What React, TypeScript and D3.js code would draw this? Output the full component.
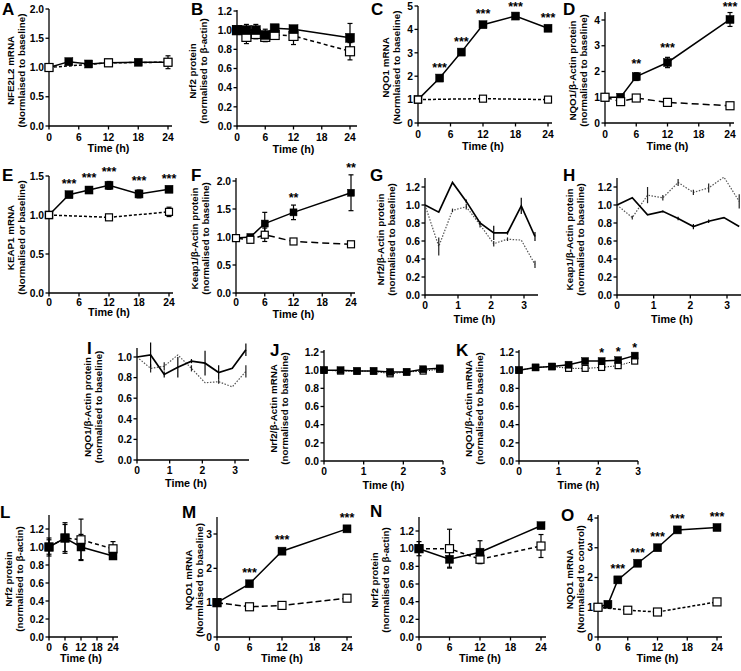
import React from "react";
import * as d3 from "d3";

const FONT = "'Liberation Sans', Arial, Helvetica, sans-serif";

// ---------------- DATA ----------------
// A: NFE2L2 mRNA
const tA_treat = [0, 4, 8, 12, 18, 24];
const nfe2l2Treat = [1.0, 1.1, 1.06, 1.08, 1.09, 1.09];
const nfe2l2TreatErr = [0, 0.03, 0.02, 0.02, 0.03, 0.02];
const tA_ctrl = [0, 12, 24];
const nfe2l2Ctrl = [1.0, 1.08, 1.09];
const nfe2l2CtrlErr = [0, 0.02, 0.11];

// B: Nrf2 protein
const tB = [0, 2, 4, 6, 8, 12, 24];
const nrf2ProtTreat = [1.0, 1.0, 1.0, 0.95, 1.02, 1.01, 0.92];
const nrf2ProtTreatErr = [0.03, 0.06, 0.06, 0.06, 0.03, 0.03, 0.15];
const nrf2ProtCtrl = [1.0, 0.93, 0.96, 0.93, 0.95, 0.94, 0.78];
const nrf2ProtCtrlErr = [0.02, 0.07, 0.05, 0.05, 0.03, 0.09, 0.09];

// C: NQO1 mRNA
const tC_treat = [0, 4, 8, 12, 18, 24];
const nqo1MrnaTreat = [1.0, 1.92, 3.03, 4.2, 4.57, 4.05];
const nqo1MrnaTreatErr = [0.03, 0.05, 0.06, 0.08, 0.06, 0.06];
const tC_ctrl = [0, 12, 24];
const nqo1MrnaCtrl = [1.0, 1.04, 1.0];
const starsC_t = [4, 8, 12, 18, 24];
const starsC_l = ["***", "***", "***", "***", "***"];

// D: NQO1 protein
const tD = [0, 3, 6, 12, 24];
const nqo1ProtTreat = [1.0, 1.0, 1.8, 2.35, 4.02];
const nqo1ProtTreatErr = [0.05, 0.06, 0.15, 0.2, 0.27];
const nqo1ProtCtrl = [1.0, 0.83, 0.97, 0.8, 0.67];
const nqo1ProtCtrlErr = [0.05, 0.05, 0.1, 0.15, 0.05];
const starsD_t = [6, 12, 24];
const starsD_l = ["**", "***", "***"];

// E: KEAP1 mRNA
const tE_treat = [0, 4, 8, 12, 18, 24];
const keap1MrnaTreat = [1.0, 1.26, 1.32, 1.38, 1.27, 1.33];
const keap1MrnaTreatErr = [0, 0.02, 0.04, 0.05, 0.05, 0.02];
const tE_ctrl = [0, 12, 24];
const keap1MrnaCtrl = [1.0, 0.97, 1.04];
const keap1MrnaCtrlErr = [0, 0.02, 0.06];
const starsE_t = [4, 8, 12, 18, 24];
const starsE_l = ["***", "***", "***", "***", "***"];

// F: Keap1 protein
const tF = [0, 3, 6, 12, 24];
const keap1ProtTreat = [0.98, 1.0, 1.24, 1.44, 1.79];
const keap1ProtTreatErr = [0.03, 0.03, 0.2, 0.13, 0.32];
const keap1ProtCtrl = [0.98, 0.95, 1.04, 0.92, 0.87];
const keap1ProtCtrlErr = [0.03, 0.03, 0.12, 0.03, 0.03];
const starsF_t = [12, 24];
const starsF_l = ["**", "**"];

// G, H, I: short time course (h)
const tShort = [0, 0.417, 0.833, 1.25, 1.667, 2.083, 2.5, 2.917, 3.333];
const gSolid = [1.0, 0.92, 1.25, 1.04, 0.8, 0.69, 0.69, 0.99, 0.65];
const gSolidErr = [0, 0, 0, 0.02, 0.02, 0.08, 0.02, 0.09, 0.05];
const gDotted = [1.0, 0.54, 0.94, 0.98, 0.78, 0.57, 0.62, 0.61, 0.34];
const gDottedErr = [0, 0.1, 0.02, 0.03, 0.03, 0.03, 0.02, 0, 0.04];

const hSolid = [1.0, 1.08, 0.89, 0.93, 0.85, 0.76, 0.82, 0.86, 0.76];
const hSolidErr = [0, 0, 0, 0.01, 0.02, 0.03, 0.02, 0, 0];
const hDotted = [1.0, 0.86, 1.11, 1.08, 1.25, 1.14, 1.19, 1.31, 1.04];
const hDottedErr = [0, 0.02, 0.09, 0.03, 0.04, 0.03, 0.05, 0, 0.08];

const iSolid = [1.0, 1.02, 0.83, 0.9, 0.96, 0.94, 0.85, 0.89, 1.07];
const iSolidErr = [0, 0.12, 0.03, 0.1, 0.02, 0.12, 0.07, 0, 0.06];
const iDotted = [1.0, 0.89, 0.91, 1.02, 0.89, 0.75, 0.76, 0.71, 0.86];
const iDottedErr = [0, 0.04, 0.04, 0, 0.03, 0, 0.02, 0, 0.06];

// J, K
const tJK = [0, 0.417, 0.833, 1.25, 1.667, 2.083, 2.5, 2.917];
const jTreat = [1.0, 1.0, 0.99, 0.99, 0.98, 0.98, 1.01, 1.02];
const jCtrl = [1.0, 0.99, 0.99, 0.99, 0.96, 0.98, 0.99, 1.01];
const kTreat = [1.0, 1.03, 1.04, 1.06, 1.1, 1.1, 1.11, 1.16];
const kTreatErr = [0, 0.01, 0.01, 0.01, 0.01, 0.01, 0.01, 0.01];
const kCtrl = [1.0, 1.03, 1.04, 1.02, 1.02, 1.03, 1.05, 1.1];
const starsK_t = [2.083, 2.5, 2.917];
const starsK_l = ["*", "*", "*"];

// L, M, N
const t4 = [0, 6, 12, 24];
const lTreat = [1.0, 1.1, 1.0, 0.9];
const lTreatErr = [0.1, 0.17, 0.14, 0.03];
const lCtrl = [1.0, 1.1, 1.08, 0.98];
const lCtrlErr = [0.08, 0.15, 0.23, 0.08];

const mTreat = [1.0, 1.55, 2.5, 3.15];
const mTreatErr = [0.03, 0.05, 0.05, 0.06];
const mCtrl = [1.0, 0.88, 0.92, 1.13];
const starsM_t = [6, 12, 24];
const starsM_l = ["***", "***", "***"];

const nTreat = [1.0, 0.88, 0.96, 1.26];
const nTreatErr = [0.08, 0.09, 0.13, 0.02];
const nCtrl = [1.0, 1.0, 0.88, 1.03];
const nCtrlErr = [0.02, 0.22, 0.04, 0.13];

// O
const tO_treat = [0, 2, 4, 8, 12, 16, 24];
const oTreat = [1.0, 1.1, 1.92, 2.48, 3.0, 3.6, 3.68];
const oTreatErr = [0.03, 0.04, 0.05, 0.05, 0.05, 0.05, 0.05];
const tO_ctrl = [0, 6, 12, 24];
const oCtrl = [1.0, 0.9, 0.84, 1.18];
const starsO_t = [4, 8, 12, 16, 24];
const starsO_l = ["***", "***", "***", "***", "***"];

// tick labels
const ticks24 = [0, 6, 12, 18, 24];
const ticks3 = [0, 1, 2, 3];

// ---------------- LAYOUT ----------------
type Kind = "filled" | "open" | "solidLine" | "dottedLine";
interface SeriesCfg {
  t: number[];
  v: number[];
  e?: number[];
  kind: Kind;
  dash?: string;
  size?: number;
  lw?: number;
}
interface PanelCfg {
  letter: string;
  lx: number;
  ly: number;
  x0: number;
  x1: number;
  xMax: number;
  xEnd: number;
  xTicks: number[];
  y0: number;
  y1: number;
  yMax: number;
  yTop: number;
  yTicks: number[];
  yDec: number;
  title: [string, string];
  tx: number;
  tickDy: number;
  timeDy: number;
  series: SeriesCfg[];
  starT?: number[];
  starL?: string[];
  starGap?: number;
}

const rng = (a: number, b: number, s: number) => d3.range(a, b + s / 2, s);

const panels: PanelCfg[] = [
  {
    letter: "A", lx: 2, ly: 15,
    x0: 49, x1: 168, xMax: 24, xEnd: 172, xTicks: ticks24,
    y0: 126, y1: 9, yMax: 2.0, yTop: 9, yTicks: rng(0, 2, 0.5), yDec: 1,
    title: ["NFE2L2 mRNA", "(Normlaised to baseline)"], tx: 10, tickDy: 14.5, timeDy: 26,
    series: [
      { t: tA_treat, v: nfe2l2Treat, e: nfe2l2TreatErr, kind: "filled", size: 8 },
      { t: tA_ctrl, v: nfe2l2Ctrl, e: nfe2l2CtrlErr, kind: "open", dash: "3,2", size: 8 },
    ],
  },
  {
    letter: "B", lx: 191, ly: 15,
    x0: 237, x1: 350, xMax: 24, xEnd: 357, xTicks: ticks24,
    y0: 126, y1: 11, yMax: 1.2, yTop: 10, yTicks: rng(0, 1.2, 0.2), yDec: 1,
    title: ["Nrf2 protein", "(normalised to \u03b2-actin)"], tx: 192, tickDy: 14.5, timeDy: 27,
    series: [
      { t: tB, v: nrf2ProtCtrl, e: nrf2ProtCtrlErr, kind: "open", dash: "4,3", size: 9 },
      { t: tB, v: nrf2ProtTreat, e: nrf2ProtTreatErr, kind: "filled", size: 9 },
    ],
  },
  {
    letter: "C", lx: 371, ly: 15,
    x0: 418, x1: 548, xMax: 24, xEnd: 552, xTicks: ticks24,
    y0: 123, y1: 6, yMax: 5, yTop: 6, yTicks: rng(0, 5, 1), yDec: 0,
    title: ["NQO1 mRNA", "(Normlaised to baseline)"], tx: 385, tickDy: 14.5, timeDy: 27,
    series: [
      { t: tC_treat, v: nqo1MrnaTreat, e: nqo1MrnaTreatErr, kind: "filled", size: 8 },
      { t: tC_ctrl, v: nqo1MrnaCtrl, kind: "open", dash: "3,2", size: 7 },
    ],
    starT: starsC_t, starL: starsC_l, starGap: 5,
  },
  {
    letter: "D", lx: 563, ly: 15,
    x0: 605, x1: 730, xMax: 24, xEnd: 734, xTicks: ticks24,
    y0: 123, y1: 20, yMax: 4, yTop: 12, yTicks: rng(0, 4, 1), yDec: 0,
    title: ["NQO1/\u03b2-Actin protein", "(normalised to baseline)"], tx: 572, tickDy: 14.5, timeDy: 27,
    series: [
      { t: tD, v: nqo1ProtTreat, e: nqo1ProtTreatErr, kind: "filled", size: 8 },
      { t: tD, v: nqo1ProtCtrl, e: nqo1ProtCtrlErr, kind: "open", dash: "7,4", size: 8 },
    ],
    starT: starsD_t, starL: starsD_l, starGap: 5,
  },
  {
    letter: "E", lx: 2, ly: 181,
    x0: 49, x1: 169, xMax: 24, xEnd: 173, xTicks: ticks24,
    y0: 293, y1: 176, yMax: 1.5, yTop: 176, yTicks: rng(0, 1.5, 0.5), yDec: 1,
    title: ["KEAP1 mRNA", "(Normalised or baseline)"], tx: 10, tickDy: 12.5, timeDy: 23,
    series: [
      { t: tE_treat, v: keap1MrnaTreat, e: keap1MrnaTreatErr, kind: "filled", size: 8 },
      { t: tE_ctrl, v: keap1MrnaCtrl, e: keap1MrnaCtrlErr, kind: "open", dash: "3,2", size: 7 },
    ],
    starT: starsE_t, starL: starsE_l, starGap: 5,
  },
  {
    letter: "F", lx: 191, ly: 181,
    x0: 236, x1: 351, xMax: 24, xEnd: 355, xTicks: ticks24,
    y0: 293, y1: 181, yMax: 2.0, yTop: 178, yTicks: rng(0, 2, 0.5), yDec: 1,
    title: ["Keap1/\u03b2-Actin protein", "(normalised to baseline)"], tx: 194, tickDy: 13, timeDy: 25,
    series: [
      { t: tF, v: keap1ProtTreat, e: keap1ProtTreatErr, kind: "filled", size: 7 },
      { t: tF, v: keap1ProtCtrl, e: keap1ProtCtrlErr, kind: "open", dash: "7,4", size: 7 },
    ],
    starT: starsF_t, starL: starsF_l, starGap: 3,
  },
  {
    letter: "G", lx: 370, ly: 181,
    x0: 425, x1: 524, xMax: 3, xEnd: 538, xTicks: ticks3,
    y0: 295, y1: 187, yMax: 1.2, yTop: 178, yTicks: rng(0, 1.2, 0.2), yDec: 1,
    title: ["Nrf2/\u03b2-Actin protein", "(normalised to baseline)"], tx: 380, tickDy: 14, timeDy: 27.5,
    series: [
      { t: tShort, v: gDotted, e: gDottedErr, kind: "dottedLine" },
      { t: tShort, v: gSolid, e: gSolidErr, kind: "solidLine" },
    ],
  },
  {
    letter: "H", lx: 563, ly: 181,
    x0: 617, x1: 727, xMax: 3, xEnd: 741, xTicks: ticks3,
    y0: 295, y1: 187, yMax: 1.2, yTop: 178, yTicks: rng(0, 1.2, 0.2), yDec: 1,
    title: ["Keap1/\u03b2-Actin protein", "(normalised to baseline)"], tx: 569, tickDy: 14, timeDy: 27.5,
    series: [
      { t: tShort, v: hDotted, e: hDottedErr, kind: "dottedLine" },
      { t: tShort, v: hSolid, e: hSolidErr, kind: "solidLine" },
    ],
  },
  {
    letter: "I", lx: 87, ly: 354,
    x0: 137, x1: 235, xMax: 3, xEnd: 249, xTicks: ticks3,
    y0: 460, y1: 357, yMax: 1.0, yTop: 348, yTicks: rng(0, 1.0, 0.2), yDec: 1,
    title: ["NQO1/\u03b2-Actin protein", "(normalised to baseline)"], tx: 87, tickDy: 14, timeDy: 27,
    series: [
      { t: tShort, v: iDotted, e: iDottedErr, kind: "dottedLine" },
      { t: tShort, v: iSolid, e: iSolidErr, kind: "solidLine" },
    ],
  },
  {
    letter: "J", lx: 270, ly: 356,
    x0: 324, x1: 443, xMax: 3, xEnd: 443, xTicks: ticks3,
    y0: 461, y1: 352, yMax: 1.2, yTop: 350, yTicks: rng(0, 1.2, 0.2), yDec: 1,
    title: ["Nrf2/\u03b2-Actin mRNA", "(normalised to baseline)"], tx: 273, tickDy: 14, timeDy: 28,
    series: [
      { t: tJK, v: jCtrl, kind: "open", dash: "1.2,1.5", size: 6, lw: 1 },
      { t: tJK, v: jTreat, kind: "filled", size: 7 },
    ],
  },
  {
    letter: "K", lx: 456, ly: 356,
    x0: 519, x1: 638, xMax: 3, xEnd: 638, xTicks: ticks3,
    y0: 461, y1: 352, yMax: 1.2, yTop: 350, yTicks: rng(0, 1.2, 0.2), yDec: 1,
    title: ["NQO1/\u03b2-Actin mRNA", "(normalised to baseline)"], tx: 468, tickDy: 14, timeDy: 28,
    series: [
      { t: tJK, v: kCtrl, kind: "open", dash: "1.2,1.5", size: 6, lw: 1 },
      { t: tJK, v: kTreat, e: kTreatErr, kind: "filled", size: 7 },
    ],
    starT: starsK_t, starL: starsK_l, starGap: 3,
  },
  {
    letter: "L", lx: 0, ly: 518,
    x0: 49, x1: 113, xMax: 24, xEnd: 118, xTicks: ticks24,
    y0: 637, y1: 529, yMax: 1.2, yTop: 515, yTicks: rng(0, 1.2, 0.2), yDec: 1,
    title: ["Nrf2 protein", "(normalised to \u03b2-actin)"], tx: 8, tickDy: 13.5, timeDy: 24.5,
    series: [
      { t: t4, v: lCtrl, e: lCtrlErr, kind: "open", dash: "4,3", size: 8 },
      { t: t4, v: lTreat, e: lTreatErr, kind: "filled", size: 8 },
    ],
  },
  {
    letter: "M", lx: 182, ly: 518,
    x0: 217, x1: 347, xMax: 24, xEnd: 352, xTicks: ticks24,
    y0: 637, y1: 534, yMax: 3, yTop: 517, yTicks: rng(0, 3, 1), yDec: 0,
    title: ["NQO1 mRNA", "(Normlaised to baseline)"], tx: 188, tickDy: 13.5, timeDy: 24.5,
    series: [
      { t: t4, v: mCtrl, kind: "open", dash: "6,3", size: 8 },
      { t: t4, v: mTreat, e: mTreatErr, kind: "filled", size: 8 },
    ],
    starT: starsM_t, starL: starsM_l, starGap: 5,
  },
  {
    letter: "N", lx: 370, ly: 517,
    x0: 419, x1: 541, xMax: 24, xEnd: 546, xTicks: ticks24,
    y0: 637, y1: 531, yMax: 1.2, yTop: 517, yTicks: rng(0, 1.2, 0.2), yDec: 1,
    title: ["Nrf2 protein", "(normalised to \u03b2-actin)"], tx: 374, tickDy: 13.5, timeDy: 24.5,
    series: [
      { t: t4, v: nCtrl, e: nCtrlErr, kind: "open", dash: "4,3", size: 8 },
      { t: t4, v: nTreat, e: nTreatErr, kind: "filled", size: 8 },
    ],
  },
  {
    letter: "O", lx: 561, ly: 521,
    x0: 598, x1: 717, xMax: 24, xEnd: 722, xTicks: ticks24,
    y0: 637, y1: 518, yMax: 4, yTop: 515, yTicks: rng(0, 4, 1), yDec: 0,
    title: ["NQO1 mRNA", "(Normalised to control)"], tx: 569, tickDy: 13.5, timeDy: 24.5,
    series: [
      { t: tO_treat, v: oTreat, e: oTreatErr, kind: "filled", size: 8 },
      { t: tO_ctrl, v: oCtrl, kind: "open", dash: "3,2", size: 8 },
    ],
    starT: starsO_t, starL: starsO_l, starGap: 5,
  },
];

function Panel({ c }: { c: PanelCfg }) {
  const x = d3.scaleLinear().domain([0, c.xMax]).range([c.x0, c.x1]);
  const y = d3.scaleLinear().domain([0, c.yMax]).range([c.y0, c.y1]);
  const fmt = d3.format(`.${c.yDec}f`);
  const line = d3
    .line<[number, number]>()
    .x((d) => x(d[0]))
    .y((d) => y(d[1]));
  const midY = (c.y0 + c.yTop) / 2 + 3;
  const treat = c.series.find((s) => s.kind === "filled");

  const lineEls = c.series.map((s, i) => {
    const pts = s.t.map((t, j) => [t, s.v[j]] as [number, number]);
    let stroke = "#000";
    let lw = s.lw ?? 1.5;
    let dash = s.dash;
    if (s.kind === "dottedLine") {
      stroke = "#555";
      lw = 1.2;
      dash = "1.5,1.5";
    }
    if (s.kind === "solidLine") lw = 1.7;
    return (
      <path key={`l${i}`} d={line(pts) || ""} fill="none" stroke={stroke} strokeWidth={lw} strokeDasharray={dash} />
    );
  });

  const errEls = c.series.flatMap((s, i) => {
    if (!s.e) return [];
    const capped = s.kind === "filled" || s.kind === "open";
    return s.t.map((t, j) => {
      const e = s.e![j];
      if (!e) return null;
      const px = x(t);
      const yt = y(s.v[j] + e);
      const yb = y(s.v[j] - e);
      const col = s.kind === "dottedLine" ? "#222" : "#000";
      return (
        <g key={`e${i}-${j}`} stroke={col} strokeWidth={1.2}>
          <line x1={px} x2={px} y1={yt} y2={yb} />
          {capped && <line x1={px - 2.5} x2={px + 2.5} y1={yt} y2={yt} />}
          {capped && <line x1={px - 2.5} x2={px + 2.5} y1={yb} y2={yb} />}
        </g>
      );
    });
  });

  const markEls = c.series.flatMap((s, i) => {
    if (s.kind !== "filled" && s.kind !== "open") return [];
    const sz = s.size ?? 8;
    return s.t.map((t, j) => (
      <rect
        key={`m${i}-${j}`}
        x={x(t) - sz / 2}
        y={y(s.v[j]) - sz / 2}
        width={sz}
        height={sz}
        fill={s.kind === "filled" ? "#000" : "#fff"}
        stroke="#000"
        strokeWidth={s.kind === "open" ? 1.2 : 0.5}
      />
    ));
  });

  const starEls =
    c.starT && treat
      ? c.starT.map((t, k) => {
          const j = treat.t.findIndex((tt) => Math.abs(tt - t) < 1e-6);
          const top = treat.v[j] + (treat.e ? treat.e[j] : 0);
          const by = Math.max(11, y(top) - (c.starGap ?? 4));
          return (
            <text key={`s${k}`} x={x(t)} y={by} textAnchor="middle" fontSize={12.5} fontWeight="bold">
              {c.starL![k]}
            </text>
          );
        })
      : [];

  return (
    <g fontFamily={FONT}>
      <text x={c.lx} y={c.ly} fontSize={17} fontWeight="bold">
        {c.letter}
      </text>
      {/* axes */}
      <g stroke="#000" strokeWidth={1.3}>
        <line x1={c.x0} y1={c.y0} x2={c.xEnd} y2={c.y0} />
        <line x1={c.x0} y1={c.y0 + 0.6} x2={c.x0} y2={c.yTop} />
        {c.xTicks.map((t) => (
          <line key={`xt${t}`} x1={x(t)} x2={x(t)} y1={c.y0} y2={c.y0 + 3.5} />
        ))}
        {c.yTicks.map((v) => (
          <line key={`yt${v}`} x1={c.x0 - 3.5} x2={c.x0} y1={y(v)} y2={y(v)} />
        ))}
      </g>
      <g fontSize={10.3} fontWeight="bold">
        {c.xTicks.map((t) => (
          <text key={`xl${t}`} x={x(t)} y={c.y0 + c.tickDy} textAnchor="middle">
            {t}
          </text>
        ))}
        {c.yTicks.map((v) => (
          <text key={`yl${v}`} x={c.x0 - 5} y={y(v) + 3.7} textAnchor="end">
            {fmt(v)}
          </text>
        ))}
        <text x={(c.x0 + c.x1) / 2} y={c.y0 + c.timeDy} textAnchor="middle" fontSize={10.8}>
          Time (h)
        </text>
      </g>
      <g fontSize={9.8} fontWeight="bold">
        <text transform={`translate(${c.tx + 3.5},${midY}) rotate(-90)`} textAnchor="middle">
          {c.title[0]}
        </text>
        <text transform={`translate(${c.tx + 14.5},${midY}) rotate(-90)`} textAnchor="middle">
          {c.title[1]}
        </text>
      </g>
      {lineEls}
      {errEls}
      {markEls}
      {starEls}
    </g>
  );
}

export default function App() {
  return (
    <svg
      width={741}
      height={671}
      viewBox="0 0 741 671"
      style={{ position: "absolute", left: 0, top: 0, background: "#fff" }}
    >
      <rect width={741} height={671} fill="#fff" />
      {panels.map((p) => (
        <Panel key={p.letter} c={p} />
      ))}
    </svg>
  );
}
